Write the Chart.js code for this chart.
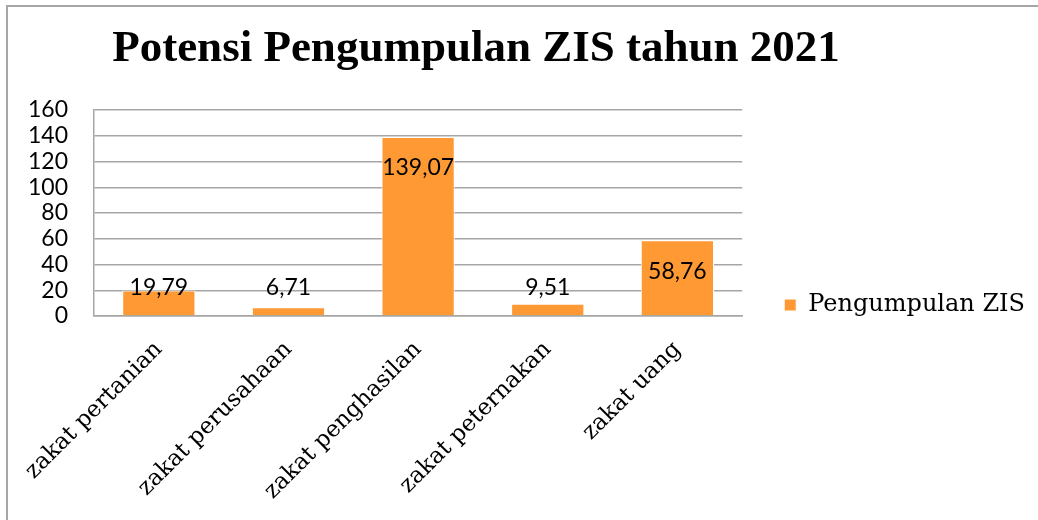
<!DOCTYPE html>
<html>
<head>
<meta charset="utf-8">
<script src="https://cdn.jsdelivr.net/npm/chart.js@4/dist/chart.umd.min.js"></script>
<style>
  html, body { margin: 0; padding: 0; background: #fff; }
  #wrap { position: relative; width: 1038px; height: 520px; overflow: hidden; }
  #frame { position: absolute; left: 6px; top: 5px; width: 1100px; height: 600px;
           border-left: 2px solid #a6a6a6; border-top: 2px solid #a6a6a6; pointer-events: none; }
</style>
</head>
<body>
<div id="wrap">
  <canvas id="c"></canvas>
  <div id="frame"></div>
</div>
<script>
const categories = ['zakat pertanian', 'zakat perusahaan', 'zakat penghasilan', 'zakat peternakan', 'zakat uang'];
const seriesName = 'Pengumpulan ZIS';
const values = [19.79, 6.71, 139.07, 9.51, 58.76];
const yTickValues = [0, 20, 40, 60, 80, 100, 120, 140, 160];
const chartTitle = 'Potensi Pengumpulan ZIS tahun 2021';

const BAR_COLOR = '#FF9933';
const GRID_COLOR = '#a6a6a6';
const SANS = 'Lato, "Open Sans", sans-serif';
const SERIF = '"DejaVu Serif", serif';

const fmt = v => v.toFixed(2).replace('.', ',');

const titleShift = {
  id: 'titleShift',
  afterLayout(chart) {
    const t = chart.titleBlock;
    if (t) { t.left = 0; t.right = 952; }
  }
};

const valueLabels = {
  id: 'valueLabels',
  afterDatasetsDraw(chart) {
    const ctx = chart.ctx;
    const meta = chart.getDatasetMeta(0);
    const y0 = chart.scales.y.getPixelForValue(0);
    ctx.save();
    ctx.font = '23px ' + SANS;
    ctx.fillStyle = '#000';
    ctx.textAlign = 'center';
    ctx.textBaseline = 'middle';
    meta.data.forEach((bar, i) => {
      const cy = Math.min(bar.y + 31, y0 - 28);
      ctx.fillText(fmt(values[i]), bar.x, cy);
    });
    ctx.restore();
  }
};

new Chart(document.getElementById('c'), {
  type: 'bar',
  data: {
    labels: categories,
    datasets: [{
      label: seriesName,
      data: values,
      backgroundColor: BAR_COLOR,
      borderColor: '#ffffff',
      borderWidth: 1,
      categoryPercentage: 1,
      barPercentage: 0.565
    }]
  },
  options: {
    responsive: true,
    maintainAspectRatio: false,
    animation: false,
    layout: { padding: { left: 2, right: 3, top: 0, bottom: 0 } },
    plugins: {
      title: {
        display: true,
        text: chartTitle,
        color: '#000',
        font: { family: '"Liberation Serif", serif', size: 45, weight: 'bold' },
        padding: { top: 22, bottom: 34 }
      },
      legend: {
        position: 'right',
        maxWidth: 400,
        title: { display: true, text: ' ', font: { size: 10 }, padding: { top: 78, bottom: 0 } },
        labels: {
          boxWidth: 12,
          boxHeight: 12,
          padding: 42,
          color: '#000',
          font: { family: SERIF, size: 24 }
        }
      },
      tooltip: { enabled: false }
    },
    scales: {
      x: {
        grid: { display: false, drawTicks: false },
        border: { display: true, color: GRID_COLOR, width: 1.5 },
        afterFit(scale) { scale.paddingLeft = 0; scale.paddingRight = 0; scale.height = 204; },
        ticks: {
          color: '#000',
          font: { family: SERIF, size: 23 },
          minRotation: 45,
          maxRotation: 45,
          padding: 20,
          autoSkip: false
        }
      },
      y: {
        min: 0,
        max: 160,
        afterBuildTicks(axis) { axis.ticks = yTickValues.map(v => ({ value: v })); },
        grid: { color: GRID_COLOR, lineWidth: 1.5, drawTicks: false },
        border: { display: true, color: GRID_COLOR, width: 1.5 },
        ticks: {
          color: '#000',
          font: { family: SANS, size: 23 },
          padding: 26,
          autoSkip: false
        }
      }
    }
  },
  plugins: [titleShift, valueLabels]
});
</script>
</body>
</html>
